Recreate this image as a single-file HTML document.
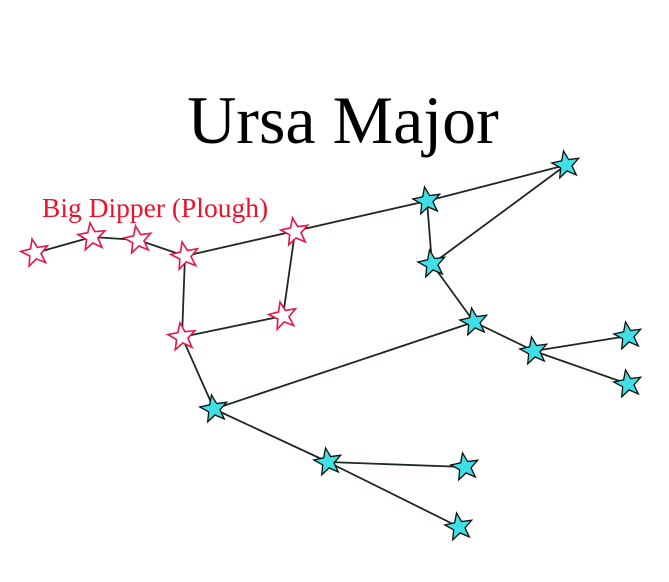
<!DOCTYPE html>
<html><head><meta charset="utf-8"><style>
html,body{margin:0;padding:0;background:#fff;width:669px;height:582px;overflow:hidden}
</style></head><body>
<svg width="669" height="582" viewBox="0 0 669 582" xmlns="http://www.w3.org/2000/svg">
<defs>
<polygon id="s" points="0,-13 3.23,-4.45 12.36,-4.02 5.23,1.7 7.64,10.52 0,5.5 -7.64,10.52 -5.23,1.7 -12.36,-4.02 -3.23,-4.45"/>
</defs>
<text x="343" y="143" text-anchor="middle" font-family="Liberation Serif, serif" font-size="68" fill="#000">Ursa Major</text>
<text x="42" y="217" font-family="Liberation Serif, serif" font-size="27.5" fill="#f0102a">Big Dipper (Plough)</text>
<g stroke="#1c2a1c" stroke-width="1.8" fill="none">
<line x1="35" y1="253" x2="92" y2="237"/>
<line x1="92" y1="237" x2="138" y2="240"/>
<line x1="138" y1="240" x2="185" y2="256"/>
<line x1="185" y1="256" x2="427" y2="201"/>
<line x1="185" y1="256" x2="182" y2="337"/>
<line x1="295" y1="232" x2="283" y2="316"/>
<line x1="283" y1="316" x2="182" y2="337"/>
<line x1="182" y1="337" x2="214" y2="409"/>
<line x1="214" y1="409" x2="474" y2="322"/>
<line x1="427" y1="201" x2="566" y2="165"/>
<line x1="427" y1="201" x2="432" y2="264"/>
<line x1="432" y1="264" x2="566" y2="165"/>
<line x1="432" y1="264" x2="474" y2="322"/>
<line x1="474" y1="322" x2="534" y2="351"/>
<line x1="534" y1="351" x2="628" y2="336"/>
<line x1="534" y1="351" x2="628" y2="384"/>
<line x1="214" y1="409" x2="328" y2="462"/>
<line x1="328" y1="462" x2="465" y2="467"/>
<line x1="328" y1="462" x2="459" y2="527"/>
</g>
<g fill="#fff" stroke="#e8184a" stroke-width="1.5">
<use href="#s" transform="translate(35,253) rotate(-12) scale(1.1)"/>
<use href="#s" transform="translate(92,237) rotate(-8) scale(1.1)"/>
<use href="#s" transform="translate(138,240) rotate(-10) scale(1.1)"/>
<use href="#s" transform="translate(185,256) rotate(-12) scale(1.1)"/>
<use href="#s" transform="translate(295,232) rotate(-10) scale(1.1)"/>
<use href="#s" transform="translate(283,316) rotate(-12) scale(1.1)"/>
<use href="#s" transform="translate(182,337) rotate(-8) scale(1.1)"/>
</g>
<g fill="#3ee0e6" stroke="#111" stroke-width="1.2">
<use href="#s" transform="translate(214,409) rotate(-10) scale(1.1)"/>
<use href="#s" transform="translate(427,201) rotate(-10) scale(1.1)"/>
<use href="#s" transform="translate(566,165) rotate(-10) scale(1.1)"/>
<use href="#s" transform="translate(432,264) rotate(-10) scale(1.1)"/>
<use href="#s" transform="translate(474,322) rotate(-10) scale(1.1)"/>
<use href="#s" transform="translate(534,351) rotate(-10) scale(1.1)"/>
<use href="#s" transform="translate(628,336) rotate(-10) scale(1.1)"/>
<use href="#s" transform="translate(628,384) rotate(-10) scale(1.1)"/>
<use href="#s" transform="translate(328,462) rotate(-10) scale(1.1)"/>
<use href="#s" transform="translate(465,467) rotate(-10) scale(1.1)"/>
<use href="#s" transform="translate(459,527) rotate(-10) scale(1.1)"/>
</g>
</svg>
</body></html>
